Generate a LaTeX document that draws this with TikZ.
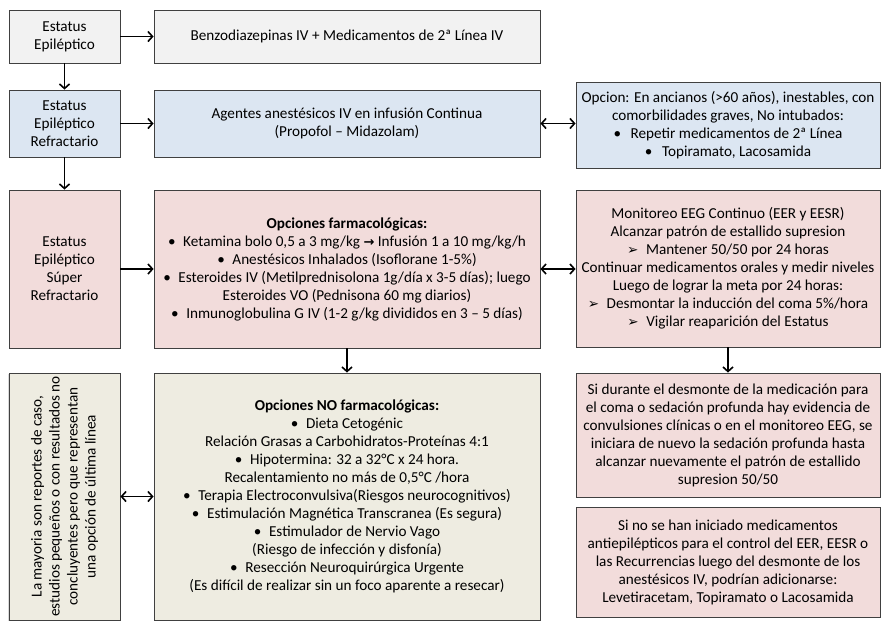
\documentclass[tikz,border=0pt]{standalone}
\usepackage{fontspec}
\setmainfont{Carlito}
\newfontfamily\symfont{DejaVu Sans}
\usetikzlibrary{arrows.meta,shadows}
\definecolor{grisfill}{HTML}{F2F2F2}
\definecolor{azulfill}{HTML}{DCE6F2}
\definecolor{rosafill}{HTML}{F2DCDB}
\definecolor{beigefill}{HTML}{EEECE1}
\newcommand{\bul}{\textbullet\enspace}
\newcommand{\flecha}{{\symfont\fontsize{13.5}{18}\selectfont ➢}\enspace}
\tikzset{
  caja/.style={draw=black!75, line width=0.9pt, align=center, inner sep=0pt,
    font=\fontsize{15.2}{18}\selectfont,
    drop shadow={shadow xshift=1.2pt, shadow yshift=-1.2pt, opacity=0.3}},
  colA/.style={caja, minimum width=111pt},
  colB/.style={caja, minimum width=386pt},
  colC/.style={caja, minimum width=304pt},
  arr/.style={line width=1.6pt, -{Straight Barb[length=4.5pt,width=10pt]}},
  darr/.style={line width=1.6pt, {Straight Barb[length=4.5pt,width=10pt]}-{Straight Barb[length=4.5pt,width=10pt]}}
}
\begin{document}
\begin{tikzpicture}[x=1pt,y=-1pt]
  \useasboundingbox (0,0) rectangle (883,622);
  \node[colA, fill=grisfill, minimum height=53pt] (ee) at (64.5,36.5) {Estatus\\Epiléptico};
  \node[colB, fill=grisfill, minimum height=53pt] (benzo) at (347,36.5)
    {Benzodiazepinas IV + Medicamentos de 2ª Línea IV};
  \node[colA, fill=azulfill, minimum height=67pt] (eer) at (64.5,123.5) {Estatus\\Epiléptico\\Refractario};
  \node[colB, fill=azulfill, minimum height=67pt] (agentes) at (347,123.5)
    {Agentes anestésicos IV en infusión Continua\\(Propofol – Midazolam)};
  \node[colC, fill=azulfill, minimum height=86pt] (opcion) at (728,125)
    {Opcion: En ancianos (>60 años), inestables, con\\comorbilidades graves, No intubados:\\
     \bul\hspace{2pt}Repetir medicamentos de 2ª Línea\\\bul\hspace{2pt}Topiramato, Lacosamida};
  \node[colA, fill=rosafill, minimum height=158pt] (eesr) at (64.5,269) {Estatus\\Epiléptico\\Súper\\Refractario};
  \node[colB, fill=rosafill, minimum height=158pt] (farma) at (347,269)
    {\textbf{Opciones farmacológicas:}\\
     \bul Ketamina bolo 0,5 a 3 mg/kg {\symfont\bfseries\fontsize{13}{18}\selectfont →} Infusión 1 a 10 mg/kg/h\\
     \bul Anestésicos Inhalados (Isoflorane 1-5\%)\\
     \bul Esteroides IV (Metilprednisolona 1g/día x 3-5 días); luego\\
     Esteroides VO (Pednisona 60 mg diarios)\\
     \bul Inmunoglobulina G IV (1-2 g/kg divididos en 3 – 5 días)};
  \node[colC, fill=rosafill, minimum height=157pt] (eeg) at (728,268.5)
    {Monitoreo EEG Continuo (EER y EESR)\\Alcanzar patrón de estallido supresion\\
     \flecha Mantener 50/50 por 24 horas\\Continuar medicamentos orales y medir niveles\\
     Luego de lograr la meta por 24 horas:\\\flecha Desmontar la inducción del coma 5\%/hora\\
     \flecha Vigilar reaparición del Estatus};
  \node[caja, fill=beigefill, rotate=90, minimum width=247pt, minimum height=111pt,
    drop shadow={shadow xshift=-1.2pt, shadow yshift=-1.2pt, opacity=0.3}] (mayoria) at (64.5,496.5)
    {La mayoria son reportes de caso,\\estudios pequeños o con resultados no\\
     concluyentes pero que representan\\una opción de última línea};
  \node[colB, fill=beigefill, minimum height=247pt] (nofarma) at (347,496.5)
    {\textbf{Opciones NO farmacológicas:}\\
     \bul Dieta Cetogénic\\Relación Grasas a Carbohidratos-Proteínas 4:1\\
     \bul Hipotermina: 32 a 32°C x 24 hora.\\Recalentamiento no más de 0,5°C /hora\\
     \bul Terapia Electroconvulsiva(Riesgos neurocognitivos)\\
     \bul Estimulación Magnética Transcranea (Es segura)\\
     \bul Estimulador de Nervio Vago\\(Riesgo de infección y disfonía)\\
     \bul Resección Neuroquirúrgica Urgente\\
     (Es difícil de realizar sin un foco aparente a resecar)};
  \node[colC, fill=rosafill, minimum height=124pt] (desmonte) at (728,435)
    {Si durante el desmonte de la medicación para\\el coma o sedación profunda hay evidencia de\\
     convulsiones clínicas o en el monitoreo EEG, se\\iniciara de nuevo la sedación profunda hasta\\
     alcanzar nuevamente el patrón de estallido\\supresion 50/50};
  \node[colC, fill=rosafill, minimum height=110pt] (antiep) at (728,562)
    {Si no se han iniciado medicamentos\\antiepilépticos para el control del EER, EESR o\\
     las Recurrencias luego del desmonte de los\\anestésicos IV, podrían adicionarse:\\
     Levetiracetam, Topiramato o Lacosamida};
  \draw[arr] (ee) -- (benzo);
  \draw[arr] (ee) -- (eer);
  \draw[arr] (eer) -- (agentes);
  \draw[darr] (agentes.east) -- (agentes.east -| opcion.west);
  \draw[arr] (eer) -- (eesr);
  \draw[arr] (eesr) -- (farma);
  \draw[darr] (farma.east) -- (farma.east -| eeg.west);
  \draw[arr] (farma) -- (nofarma);
  \draw[arr] (eeg) -- (desmonte);
  \draw[darr] (nofarma) -- (mayoria);
\end{tikzpicture}
\end{document}
